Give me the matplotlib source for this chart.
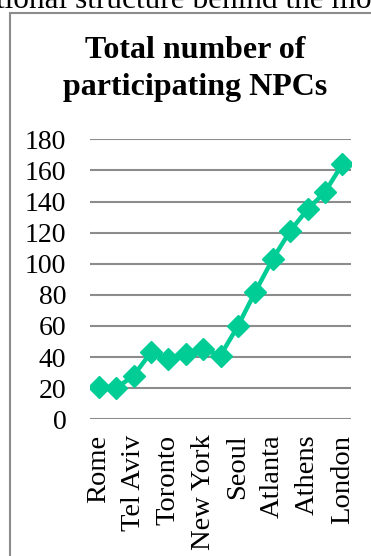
import matplotlib.pyplot as plt

# Paralympic host cities and number of participating NPCs
cities = ["Rome", "Tokyo", "Tel Aviv", "Heidelberg", "Toronto", "Arnhem",
          "New York", "Stoke Mandeville", "Seoul", "Barcelona", "Atlanta",
          "Sydney", "Athens", "Beijing", "London"]
npcs = [21, 20, 28, 43, 39, 42, 45, 41, 60, 82, 103, 121, 135, 146, 164]
y_ticks = [0, 20, 40, 60, 80, 100, 120, 140, 160, 180]

plt.rcParams['font.family'] = ['Liberation Serif', 'DejaVu Serif']

W, H = 371, 556
fig = plt.figure(figsize=(W / 100, H / 100), dpi=100)

# text from the surrounding page, cut off at the top
fig.text(-4 / W, 1 - 8 / H, "tional structure behind the mo", fontsize=22.5,
         ha='left', va='baseline')

# chart frame (runs off the right and bottom edges)
frame = plt.Rectangle((10 / W, -0.1), 1.2, 1 - 13 / H + 0.1, transform=fig.transFigure,
                      fill=False, edgecolor='#8c8c8c', linewidth=1.5)
fig.add_artist(frame)

fig.text(195 / W, 1 - 69 / H, "Total number of\nparticipating NPCs", fontsize=23,
         fontweight='bold', ha='center', va='center', linespacing=1.35)

ax = fig.add_axes([90 / W, 1 - 419.3 / H, 261 / W, 280 / H])
x = range(len(cities))
ax.plot(x, npcs, color='#00CC96', linewidth=3.2, marker='D', markersize=11, zorder=3)

ax.set_xlim(-0.5, len(cities) - 0.5)
ax.set_ylim(0, 180)
ax.set_yticks(y_ticks)
ax.set_xticks(list(x)[::2])
ax.set_xticklabels(cities[::2], rotation=90, fontsize=20.5)
ax.tick_params(axis='y', length=0, pad=17, labelsize=20)
ax.tick_params(axis='x', length=0, pad=11)
ax.grid(axis='y', color='#8c8c8c', linewidth=1.5)
ax.set_axisbelow(True)
for s in ax.spines.values():
    s.set_visible(False)
ax.set_facecolor('none')

fig.savefig("out.png", dpi=100)
